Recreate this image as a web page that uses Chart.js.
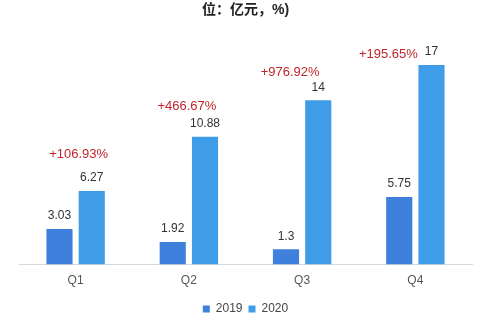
<html>
<head>
<meta charset="utf-8">
<style>
  body { margin: 0; background: #fff; }
  #wrap { width: 480px; height: 333px; }
</style>
</head>
<body>
<div id="wrap"><canvas id="myChart"></canvas></div>
<script src="https://cdn.jsdelivr.net/npm/chart.js"></script>
<script>
// data
var quarters = ["Q1", "Q2", "Q3", "Q4"];
var sales2019 = [3.03, 1.92, 1.3, 5.75];
var sales2020 = [6.27, 10.88, 14, 17];
var growth = ["+106.93%", "+466.67%", "+976.92%", "+195.65%"];

var FONT = "'Liberation Sans', 'Noto Sans CJK SC', sans-serif";

// value labels above each bar + red growth labels over each pair
var labelPlugin = {
    id: "barLabels",
    afterDatasetsDraw: function(chart) {
        var ctx = chart.ctx;
        ctx.save();
        ctx.textAlign = "center";
        ctx.textBaseline = "middle";
        ctx.font = "12px " + FONT;
        ctx.fillStyle = "#333333";
        chart.data.datasets.forEach(function(ds, di) {
            chart.getDatasetMeta(di).data.forEach(function(bar, i) {
                ctx.fillText(String(ds.data[i]), bar.x, bar.y - 13);
            });
        });
        // growth labels sit a little above/left of the 2020 value
        var dx = [3, -2, -12, -27];
        var dy = [37, 30, 28, 11];
        var meta = chart.getDatasetMeta(1);
        ctx.font = "13px " + FONT;
        ctx.fillStyle = "#c0252b";
        var xs = chart.scales.x;
        for (var i = 0; i < growth.length; i++) {
            var cx = xs.getPixelForValue(i);
            ctx.fillText(growth[i], cx + dx[i], meta.data[i].y - dy[i]);
        }
        ctx.restore();
    }
};

var ctx = document.getElementById("myChart").getContext("2d");
var myChart = new Chart(ctx, {
    type: "bar",
    data: {
        labels: quarters,
        datasets: [
            { label: "2019", data: sales2019, backgroundColor: "#3f80dc" },
            { label: "2020", data: sales2020, backgroundColor: "#3f9de8" }
        ]
    },
    options: {
        responsive: true,
        maintainAspectRatio: false,
        animation: false,
        layout: { padding: { left: 19, right: 8, top: 0, bottom: 8 } },
        categoryPercentage: 0.57,
        barPercentage: 0.81,
        plugins: {
            title: {
                display: true,
                text: "位：亿元，%)",
                color: "#222",
                font: { family: FONT, size: 14, weight: "bold" },
                padding: { top: 2, bottom: 11 }
            },
            legend: {
                position: "bottom",
                labels: {
                    boxWidth: 7, boxHeight: 7,
                    color: "#444",
                    font: { family: FONT, size: 12 },
                    padding: 6
                }
            },
            tooltip: { enabled: false }
        },
        scales: {
            x: {
                grid: { display: false, drawTicks: false },
                border: { color: "#d9d9d9" },
                ticks: { color: "#555", font: { family: FONT, size: 12 }, padding: 9 }
            },
            y: {
                display: false,
                min: 0, max: 20
            }
        }
    },
    plugins: [labelPlugin]
});
</script>
</body>
</html>
